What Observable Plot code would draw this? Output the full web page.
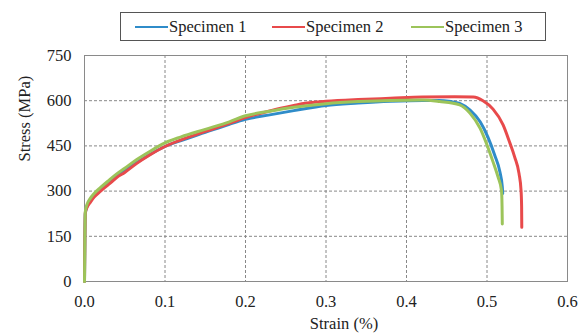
<!DOCTYPE html>
<html>
<head>
<meta charset="utf-8">
<script src="https://cdn.jsdelivr.net/npm/d3@7"></script>
<script src="https://cdn.jsdelivr.net/npm/@observablehq/plot@0.6"></script>
<style>
  html, body { margin: 0; padding: 0; background: #fff; }
  #wrap { position: relative; width: 587px; height: 334px; font-family: 'Liberation Serif', 'Noto Serif', 'Times New Roman', Times, 'DejaVu Serif', serif; }
  #legend { position: absolute; left: 120px; top: 12px; width: 424px; height: 27px; border: 1.5px solid #555; background: #fff;
    font-size: 16.5px; color: #222; }
  .item { position: absolute; display: flex; align-items: center; top: 0; height: 27px; }
  .sw { width: 33px; height: 0; border-top: 2.5px solid; margin-right: 1px; }
  #wrap svg, #wrap svg text { font-family: 'Liberation Serif', 'Noto Serif', 'Times New Roman', Times, 'DejaVu Serif', serif !important; }
</style>
</head>
<body>
<div id="wrap"><div id="legend"></div></div>
<script>
const seriesNames = ["Specimen 1", "Specimen 2", "Specimen 3"];
const seriesColors = ["#2f8cc9", "#e84a4b", "#9cc45a"];

const strain1 = [0, 0.0005, 0.001, 0.003, 0.007, 0.012, 0.02, 0.03, 0.04, 0.05, 0.065, 0.08, 0.1, 0.12, 0.15, 0.18, 0.2, 0.23, 0.26, 0.3, 0.34, 0.38, 0.42, 0.44, 0.455, 0.466, 0.479, 0.4915, 0.501, 0.5096, 0.516, 0.519, 0.5195];
const stress1 = [0, 150, 225, 248, 268, 285, 305, 328, 350, 368, 395, 420, 448, 468, 495, 522, 538, 553, 567, 584, 592, 598, 601, 601, 597, 591, 569, 530, 480, 419, 364, 314, 292];

const strain2 = [0, 0.0005, 0.001, 0.003, 0.007, 0.012, 0.02, 0.03, 0.04, 0.05, 0.065, 0.08, 0.1, 0.12, 0.15, 0.18, 0.2, 0.23, 0.26, 0.27, 0.3, 0.34, 0.38, 0.42, 0.46, 0.483, 0.495, 0.5075, 0.52, 0.528, 0.5344, 0.5398, 0.5423, 0.543, 0.5432];
const stress2 = [0, 150, 228, 245, 262, 280, 300, 322, 345, 362, 392, 418, 448, 470, 498, 525, 544, 566, 584, 590, 598, 604, 608, 612, 613, 612, 600, 572, 520, 463, 413, 358, 302, 250, 180];

const strain3 = [0, 0.0005, 0.001, 0.003, 0.007, 0.012, 0.02, 0.03, 0.04, 0.05, 0.065, 0.08, 0.1, 0.12, 0.15, 0.18, 0.2, 0.23, 0.26, 0.3, 0.34, 0.38, 0.42, 0.441, 0.466, 0.479, 0.4915, 0.4993, 0.5075, 0.5137, 0.518, 0.5187, 0.519];
const stress3 = [0, 150, 232, 255, 275, 292, 312, 335, 357, 376, 405, 430, 460, 480, 505, 530, 550, 565, 578, 590, 597, 601, 602, 597, 586, 558, 508, 458, 397, 347, 302, 250, 191];

const xTicks = [0, 0.1, 0.2, 0.3, 0.4, 0.5, 0.6];
const yTicks = [0, 150, 300, 450, 600, 750];
const xLabel = "Strain (%)";
const yLabel = "Stress (MPa)";

const strains = [strain1, strain2, strain3];
const stresses = [stress1, stress2, stress3];
const data = [];
strains.forEach((s, i) => s.forEach((v, j) => data.push({series: seriesNames[i], strain: v, stress: stresses[i][j]})));

const chart = Plot.plot({
  width: 587,
  height: 334,
  marginLeft: 84,
  marginRight: 20,
  marginTop: 55,
  marginBottom: 53,
  style: { fontSize: "16.5px", color: "#222", background: "transparent", overflow: "visible" },
  x: { domain: [0, 0.6] },
  y: { domain: [0, 750] },
  color: { domain: seriesNames, range: seriesColors },
  marks: [
    Plot.gridX(xTicks.slice(1, -1), { stroke: "#888", strokeOpacity: 1, strokeDasharray: "3,2", strokeWidth: 1 }),
    Plot.gridY(yTicks.slice(1, -1), { stroke: "#888", strokeOpacity: 1, strokeDasharray: "3,2", strokeWidth: 1 }),
    Plot.frame({ stroke: "#8a8a8a", strokeWidth: 1 }),
    Plot.axisX({ ticks: xTicks, tickFormat: d3.format(".1f"), tickSize: 0, tickPadding: 14, label: null }),
    Plot.axisY({ ticks: yTicks, tickFormat: d => String(d), tickSize: 0, tickPadding: 13, label: null }),
    Plot.text([xLabel], { frameAnchor: "bottom", text: d => d, dx: 18, dy: 47, fill: "#222" }),
    Plot.text([yLabel], { frameAnchor: "left", text: d => d, rotate: -90, dx: -60, dy: -7, fill: "#222" }),
    Plot.line(data, { x: "strain", y: "stress", z: "series", stroke: "series", strokeWidth: 3, curve: "monotone-x" })
  ]
});
document.getElementById("wrap").appendChild(chart);
chart.style.position = "absolute";
chart.style.left = "0";
chart.style.top = "0";

const legend = document.getElementById("legend");
legend.parentNode.appendChild(legend);
const itemLeft = [14, 151, 290];
seriesNames.forEach((n, i) => {
  const it = document.createElement("div");
  it.className = "item";
  it.style.left = itemLeft[i] + "px";
  const sw = document.createElement("span");
  sw.className = "sw";
  sw.style.borderColor = seriesColors[i];
  it.appendChild(sw);
  const t = document.createElement("span");
  t.textContent = n;
  it.appendChild(t);
  legend.appendChild(it);
});
</script>
</body>
</html>
